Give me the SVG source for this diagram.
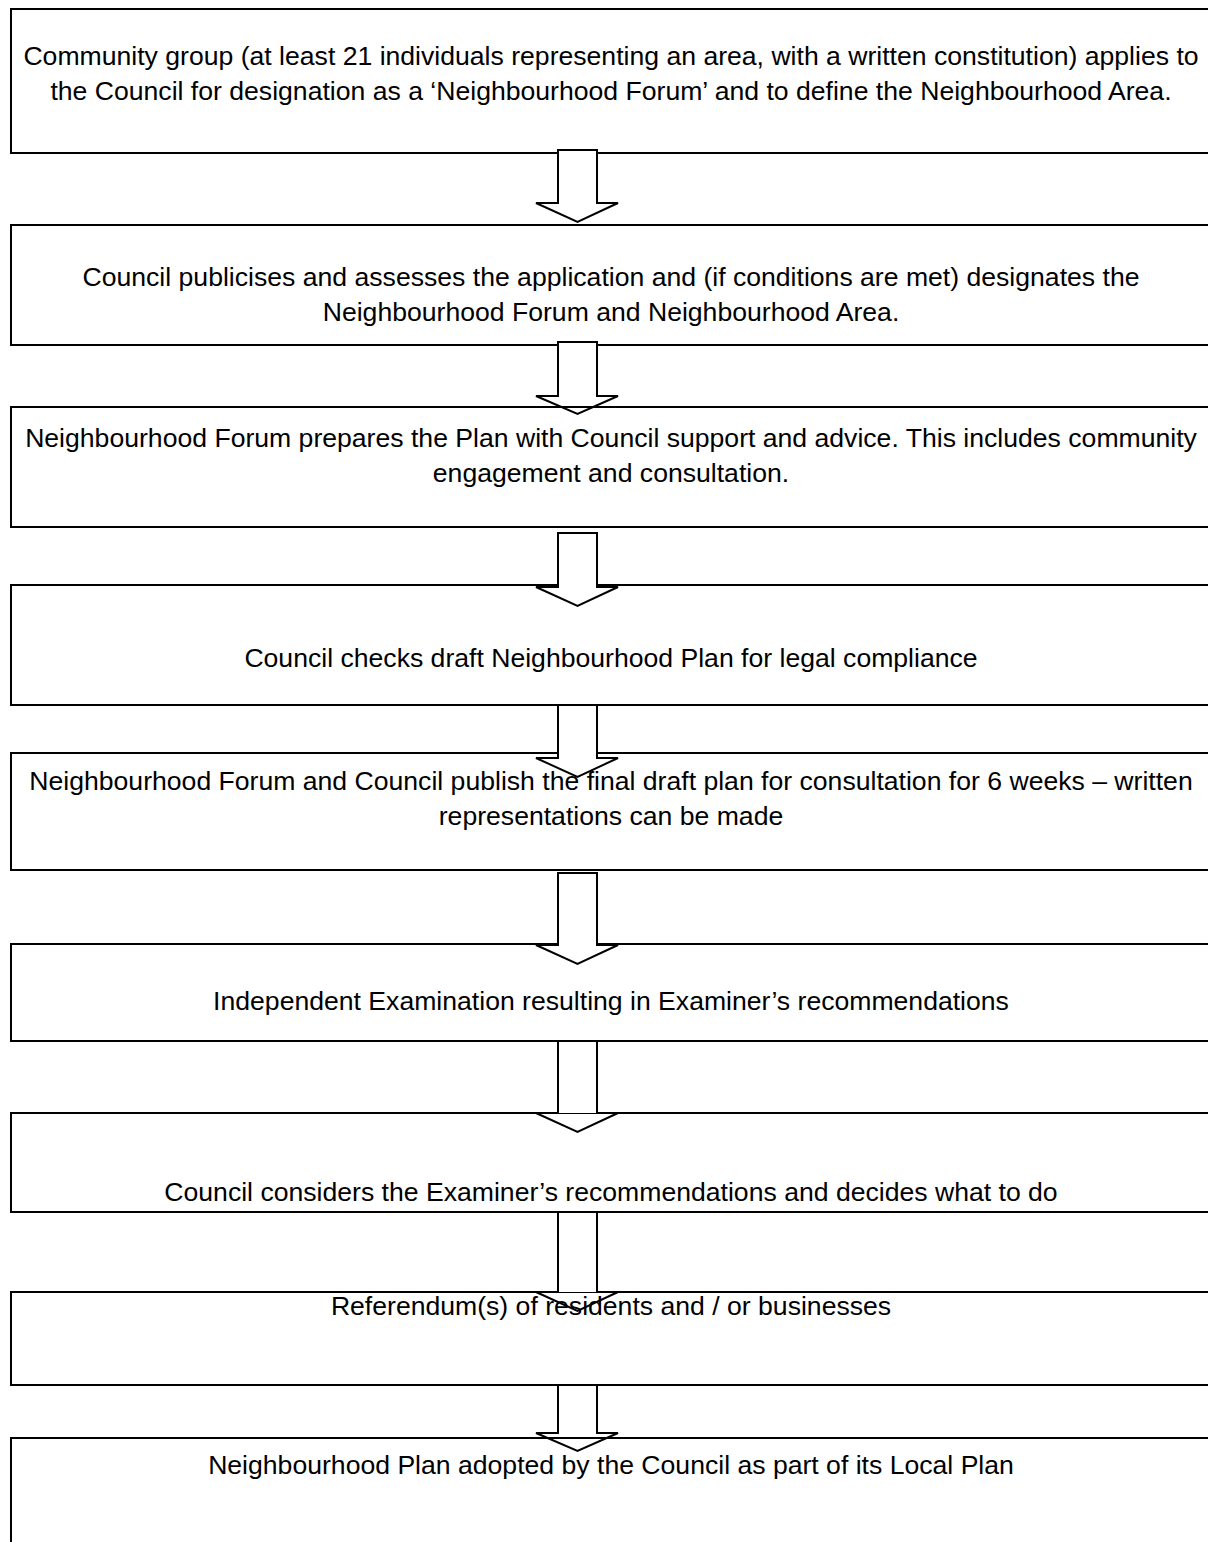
<svg xmlns="http://www.w3.org/2000/svg" width="1208" height="1542" viewBox="0 0 1208 1542">
<style>
.box{fill:#fff;stroke:#000;stroke-width:2}
.shaft{fill:#fff;stroke:none}
.arrow{fill:none;stroke:#000;stroke-width:2;stroke-linejoin:miter}
text{font-family:"Liberation Sans",Arial,sans-serif;font-size:26.6px;fill:#000;text-anchor:middle}
</style>
<rect width="1208" height="1542" fill="#fff"/>
<g id="step1"><rect class="box" x="11" y="9" width="1204" height="144"/></g>
<g id="step2"><rect class="box" x="11" y="225" width="1204" height="120"/></g>
<g id="step3"><rect class="box" x="11" y="407" width="1204" height="120"/></g>
<g id="step4"><rect class="box" x="11" y="585" width="1204" height="120"/></g>
<g id="step5"><rect class="box" x="11" y="753" width="1204" height="117"/></g>
<g id="step6"><rect class="box" x="11" y="944" width="1204" height="97"/></g>
<g id="step7"><rect class="box" x="11" y="1113" width="1204" height="99"/></g>
<g id="step8"><rect class="box" x="11" y="1292" width="1204" height="93"/></g>
<g id="step9"><rect class="box" x="11" y="1438" width="1204" height="120"/></g>
<g id="connectors">
<rect class="shaft" x="558" y="150" width="39" height="53"/>
<path class="arrow" d="M558,150H597V203H618L577.5,222L536,203H558Z"/>
<rect class="shaft" x="558" y="342" width="39" height="54"/>
<path class="arrow" d="M558,342H597V396H618L577.5,414L536,396H558Z"/>
<rect class="shaft" x="558" y="533" width="39" height="54"/>
<path class="arrow" d="M558,533H597V587H618L577.5,606L536,587H558Z"/>
<rect class="shaft" x="558" y="705" width="39" height="53"/>
<path class="arrow" d="M558,705H597V758H618L577.5,777L536,758H558Z"/>
<rect class="shaft" x="558" y="873" width="39" height="72"/>
<path class="arrow" d="M558,873H597V945H618L577.5,964L536,945H558Z"/>
<rect class="shaft" x="558" y="1041" width="39" height="72"/>
<path class="arrow" d="M558,1041H597V1113H618L577.5,1132L536,1113H558Z"/>
<rect class="shaft" x="558" y="1212" width="39" height="80"/>
<path class="arrow" d="M558,1212H597V1292H618L577.5,1311L536,1292H558Z"/>
<rect class="shaft" x="558" y="1385" width="39" height="48"/>
<path class="arrow" d="M558,1385H597V1433H618L577.5,1451L536,1433H558Z"/>
</g>
<g id="labels">
<text id="step1-label" x="611"><tspan x="611" y="65">Community group (at least 21 individuals representing an area, with a written constitution) applies to</tspan><tspan x="611" y="100">the Council for designation as a ‘Neighbourhood Forum’ and to define the Neighbourhood Area.</tspan></text>
<text id="step2-label"><tspan x="611" y="286">Council publicises and assesses the application and (if conditions are met) designates the</tspan><tspan x="611" y="321">Neighbourhood Forum and Neighbourhood Area.</tspan></text>
<text id="step3-label"><tspan x="611" y="447">Neighbourhood Forum prepares the Plan with Council support and advice. This includes community</tspan><tspan x="611" y="482">engagement and consultation.</tspan></text>
<text id="step4-label" x="611" y="667">Council checks draft Neighbourhood Plan for legal compliance</text>
<text id="step5-label"><tspan x="611" y="790">Neighbourhood Forum and Council publish the final draft plan for consultation for 6 weeks – written</tspan><tspan x="611" y="825">representations can be made</tspan></text>
<text id="step6-label" x="611" y="1010">Independent Examination resulting in Examiner’s recommendations</text>
<text id="step7-label" x="611" y="1201">Council considers the Examiner’s recommendations and decides what to do</text>
<text id="step8-label" x="611" y="1315">Referendum(s) of residents and / or businesses</text>
<text id="step9-label" x="611" y="1474">Neighbourhood Plan adopted by the Council as part of its Local Plan</text>
</g>
</svg>
